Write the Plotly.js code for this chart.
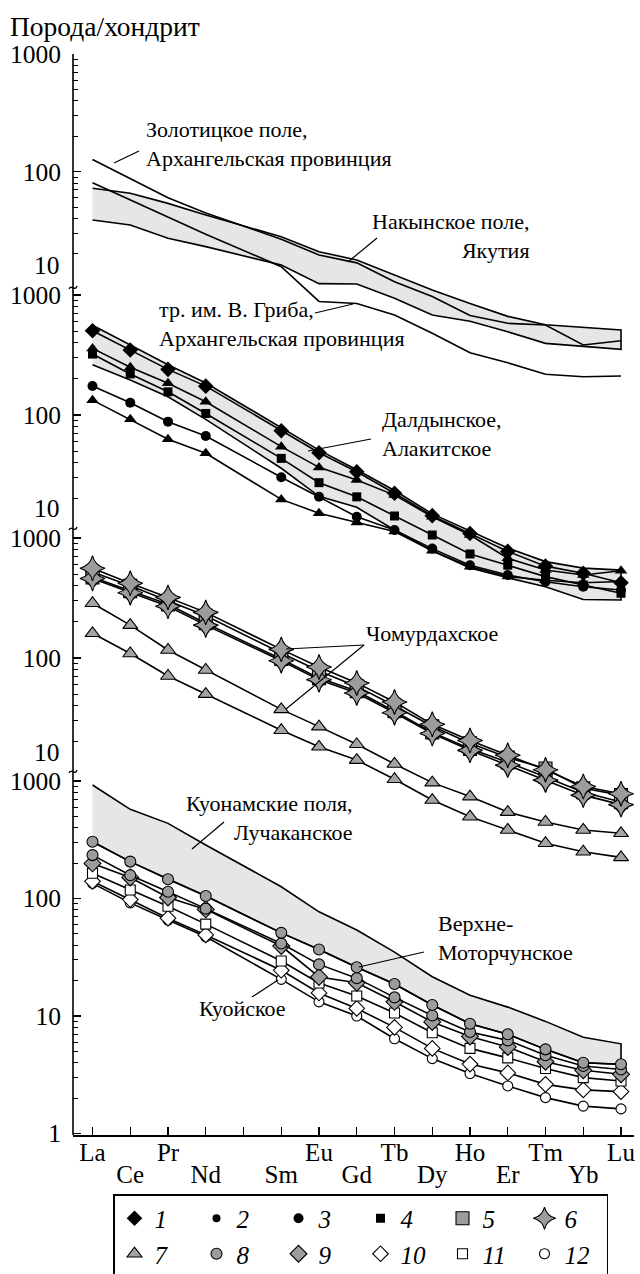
<!DOCTYPE html>
<html><head><meta charset="utf-8">
<script src="https://cdn.plot.ly/plotly-3.0.1.min.js"></script>
<style>html,body{margin:0;padding:0;background:#fff;}#chart{width:640px;height:1274px;}</style>
</head><body><div id="chart"></div>
<script>
// REE (chondrite-normalised); Pm not analysed
const elements = ["La","Ce","Pr","Nd","Pm","Sm","Eu","Gd","Tb","Dy","Ho","Er","Tm","Yb","Lu"];

// Panel 1 — Arkhangelsk & Nakyn
const zolotitsa   = [127, 87.5, 60, 44.5, null, 26.7, 19.6, 16.8, 11.6, 8.7, 6.0, 5.15, 4.98, 3.37, 3.66];
const griba       = [80.7, 57.8, 41.2, 29.4, null, 15.6, 7.9, 7.6, 6.05, 4.24, 2.9, 2.38, 1.9, 1.81, 1.84];
const nakynUpper  = [72.3, 65.5, 53.8, 42.9, null, 28, 20.9, 17.8, 13.2, 9.9, 7.6, 5.9, 5.0, 4.76, 4.52];
const nakynLower  = [38.9, 35.3, 27.2, 23.1, null, 16.1, 11.2, 11.1, 8.4, 6.05, 5.36, 4.37, 3.48, 3.3, 3.1];

// Panel 2 — Daldyn, Alakit
const daldynUpper = [560, 385, 262, 185, null, 78, 51, 35, 23.5, 15, 10.8, 7.8, 6.0, 5.3, 5.1];
const daldynLower = [262, 196, 142, 92, null, 36, 21, 17, 11, 7.4, 5.3, 4.4, 3.7, 2.9, 2.87];
const p2Diamond   = [504, 348, 240, 174, null, 74, 48.5, 33.7, 22.3, 14.5, 10.3, 7.3, 5.5, 4.8, 4.0];
const p2TriUp     = [359, 250, 184, 129, null, 54.5, 36.6, 28.7, 21.5, 14.2, 10, 6.4, 5.1, 4.64, 5.04];
const p2Square    = [322, 220, 156, 103, null, 43.5, 27.3, 20.8, 14.4, 10, 6.95, 5.6, 4.5, 3.83, 3.27];
const p2Circle    = [174.5, 126.7, 88, 66.8, null, 30.3, 20.8, 14.2, 11.0, 7.7, 5.6, 4.64, 4.08, 3.7, 3.48];
const p2TriLow    = [133, 92, 62.7, 48, null, 19.8, 15.2, 12.7, 10.7, 7.4, 5.44, 4.5, 4.2, 4.0, 4.1];

// Panel 3 — Chomurdakh
const p3Star1  = [560, 420, 320, 240, null, 118, 84, 62, 43, 28, 20.5, 15.5, 11.7, 8.5, 7.4];
const p3Sq1    = [520, 400, 300, 225, null, 110, 78, 58, 40, 27, 19.5, 14.8, 12, 8.2, 7.2];
const p3Sq2    = [470, 360, 280, 195, null, 98, 68, 53, 36, 24, 17.5, 13.5, 10.2, 7.6, 6.3];
const p3Star2  = [460, 350, 270, 188, null, 95, 66, 51, 35, 23.5, 17, 12.8, 9.6, 7.2, 6.0];
const p3TriUp  = [286, 188, 116.6, 79.4, null, 37.3, 26.8, 19.1, 13.1, 9.15, 7.0, 5.2, 4.3, 3.69, 3.46];
const p3TriLow = [160.6, 109, 70.8, 50, null, 25, 18.2, 14.1, 9.76, 6.55, 4.76, 3.69, 2.86, 2.43, 2.18];

// Panel 4 — Kuonamka, Luchakan, Verkhne-Motorchuna, Kuoika
const kuonamUpper = [925, 574, 436, 285, null, 126, 77, 54, 35, 21.6, 15, 11.9, 9.0, 6.6, 5.8];
const p4GC1 = [304, 206, 146, 105, null, 51, 36.8, 26, 18.7, 12.4, 8.6, 7.0, 5.2, 4.0, 3.88];
const p4GC2 = [234, 158, 114, 82, null, 41.4, 27.5, 21, 14.4, 10.1, 7.3, 6.2, 4.64, 3.75, 3.5];
const p4GD  = [199, 151, 102, 80.8, null, 39.4, 21.5, 19.2, 13.2, 8.9, 6.7, 5.45, 4.08, 3.45, 3.19];
const p4WS  = [164, 118, 86, 60.5, null, 29.4, 19.1, 14.8, 10.6, 7.2, 5.3, 4.4, 3.57, 2.99, 2.8];
const p4WD  = [140, 98, 68, 49, null, 24.5, 15.7, 11.6, 8.0, 5.3, 3.9, 3.28, 2.62, 2.35, 2.27];
const p4WC  = [134.6, 91.8, 65.5, 47.2, null, 20.5, 13.2, 10, 6.4, 4.34, 3.24, 2.54, 2.02, 1.71, 1.62];

const legendNames = ["1","2","3","4","5","6","7","8","9","10","11","12"];

// ---------------- styling / layout ----------------
const FONT = "Liberation Serif";
const PL = 73, PR = 634, PT = 54, PB = 1135;
const px = v => (v - PL) / (PR - PL);
const py = v => (PB - v) / (PB - PT);
function rng(top, dec) { return [3 - (PB - top) / dec, 3 + (top - PT) / dec]; }

const OL = {color: '#000', width: 1.1};
const GRAY = '#9c9c9c';
const M = {
  bDiamond: {symbol: 'diamond', size: 12, color: '#000'},
  bCircleS: {symbol: 'circle', size: 8, color: '#000'},
  bCircle:  {symbol: 'circle', size: 10, color: '#000'},
  bSquare:  {symbol: 'square', size: 9, color: '#000'},
  bTri:     {symbol: 'triangle-up', size: 11, color: '#000'},
  gSquare:  {symbol: 'square', size: 13, color: GRAY, line: OL},
  gStar:    {symbol: 'star-diamond', size: 18, color: GRAY, line: OL},
  gTri:     {symbol: 'triangle-up', size: 13, color: '#a4a4a4', line: OL},
  gCircle:  {symbol: 'circle', size: 11, color: GRAY, line: OL},
  gDiamond: {symbol: 'diamond', size: 13, color: GRAY, line: OL},
  wDiamond: {symbol: 'diamond', size: 12, color: '#fff', line: OL},
  wSquare:  {symbol: 'square', size: 10, color: '#fff', line: OL},
  wCircle:  {symbol: 'circle', size: 10, color: '#fff', line: OL}
};

function series(y, yaxis, marker) {
  const t = {type: 'scatter', mode: marker ? 'lines+markers' : 'lines', x: elements, y: y, yaxis: yaxis,
    connectgaps: true, line: {color: '#000', width: 1.6}, showlegend: false, hoverinfo: 'skip'};
  if (marker) t.marker = marker;
  return t;
}
function band(upper, lower, yaxis) {
  const idx = elements.map((e, i) => i).filter(i => upper[i] != null);
  const xs = idx.map(i => elements[i]).concat(idx.slice().reverse().map(i => elements[i]));
  const ys = idx.map(i => upper[i]).concat(idx.slice().reverse().map(i => lower[i]));
  return {type: 'scatter', mode: 'lines', x: xs, y: ys, yaxis: yaxis, fill: 'toself', fillcolor: '#e6e6e6',
    line: {color: '#000', width: 1.6}, showlegend: false, hoverinfo: 'skip'};
}

const traces = [
  band(nakynUpper, nakynLower, 'y4'),
  series(zolotitsa, 'y4'), series(griba, 'y4'),
  band(daldynUpper, daldynLower, 'y3'),
  series(p2TriLow, 'y3', M.bTri), series(p2Circle, 'y3', M.bCircle), series(p2Square, 'y3', M.bSquare),
  series(p2TriUp, 'y3', M.bTri), series(p2Diamond, 'y3', M.bDiamond),
  series(p3TriLow, 'y2', M.gTri), series(p3TriUp, 'y2', M.gTri),
  series(p3Sq2, 'y2', M.gSquare), series(p3Sq1, 'y2', M.gSquare),
  series(p3Star2, 'y2', M.gStar), series(p3Star1, 'y2', M.gStar),
  band(kuonamUpper, p4GC1, 'y'),
  series(p4WC, 'y', M.wCircle), series(p4WD, 'y', M.wDiamond), series(p4WS, 'y', M.wSquare),
  series(p4GD, 'y', M.gDiamond), series(p4GC2, 'y', M.gCircle), series(p4GC1, 'y', M.gCircle)
];

const legendMarkers = [M.bDiamond, M.bCircleS, M.bCircle, M.bSquare, M.gSquare, M.gStar,
                       M.gTri, M.gCircle, M.gDiamond, M.wDiamond, M.wSquare, M.wCircle];
legendNames.forEach((n, i) => traces.push({type: 'scatter', mode: 'markers', x: [null], y: [null], xaxis: 'x2',
  name: '<i>' + n + '</i>', marker: legendMarkers[i], showlegend: true, hoverinfo: 'skip'}));

function decadeMinors(lo, hi) {
  const out = [];
  for (let d = lo; d < hi; d *= 10) for (let k = 2; k <= 9; k++) out.push(k * d);
  return out;
}
function yax(top, dec, tv, lo, overlay) {
  const a = {type: 'log', range: rng(top, dec), tickmode: 'array', tickvals: tv, ticktext: tv.map(String),
    ticks: 'inside', ticklen: 8, tickwidth: 1.3, tickcolor: '#000', showgrid: false, showline: false, zeroline: false,
    tickfont: {family: FONT, size: 25.5, color: '#000'}, ticklabelstandoff: 11, fixedrange: true,
    minor: {ticks: 'inside', ticklen: 5, tickwidth: 1, tickcolor: '#000', tickmode: 'array', tickvals: decadeMinors(lo, 1000), showgrid: false}};
  if (overlay) { a.overlaying = 'y'; a.anchor = 'x'; }
  return a;
}

// two rows of element labels: even positions on the upper row, odd ones on the lower row (Pm unlabelled)
const row2 = elements.filter((e, i) => i % 2 === 1 && e !== 'Pm');
const ticktext1 = elements.map((e, i) => (i % 2 === 0 && e !== 'Pm') ? e : '');

const annots = [];
function txt(t, x, y, anchor, size) {
  annots.push({text: t, x: px(x), y: py(y), xref: 'paper', yref: 'paper', xanchor: anchor, yanchor: 'middle',
    align: anchor, showarrow: false, font: {family: FONT, size: size || 22, color: '#000'}});
}
txt('Порода/хондрит', 8, 26, 'left', 27.5);
txt('10', 62, 265, 'right', 25.5); txt('10', 62, 508, 'right', 25.5); txt('10', 62, 752, 'right', 25.5);
txt('Золотицкое поле,<br>Архангельская провинция', 144, 144, 'left');
txt('Накынское поле,<br>Якутия', 532, 236, 'right');
txt('тр. им. В. Гриба,<br>Архангельская провинция', 157, 324, 'left');
txt('Далдынское,<br>Алакитское', 380, 434, 'left');
txt('Чомурдахское', 364, 633, 'left');
txt('Куонамские поля,<br>Лучаканское', 355, 818, 'right');
txt('Верхне-<br>Моторчунское', 436, 938, 'left');
txt('Куойское', 197, 1008, 'left');

const shapes = [];
function seg(x0, y0, x1, y1, w) {
  shapes.push({type: 'line', xref: 'paper', yref: 'paper', x0: px(x0), y0: py(y0), x1: px(x1), y1: py(y1),
    line: {color: '#000', width: w || 1.2}});
}
seg(PL, PT, PL, PB, 1.6);
seg(114, 163, 139, 151); seg(348, 262, 377, 238); seg(315, 313, 353, 304);
seg(308, 451, 371, 439);
seg(364, 645, 286, 649); seg(364, 645, 286, 709);
seg(224, 822, 192, 849); seg(424, 952, 359, 967); seg(252, 997, 278, 980);
[287, 528, 771].forEach(yb => {
  const p = (x, y) => px(x).toFixed(5) + ',' + py(y).toFixed(5);
  shapes.push({type: 'path', xref: 'paper', yref: 'paper',
    path: 'M' + p(69, yb + 2) + ' C' + p(71, yb - 3) + ' ' + p(75, yb + 5) + ' ' + p(77, yb - 1),
    line: {color: '#000', width: 1.3}});
});

const XRANGE = [-0.5166, 14.344];
const layout = {
  width: 640, height: 1274, paper_bgcolor: '#fff', plot_bgcolor: 'rgba(0,0,0,0)',
  margin: {l: PL, r: 640 - PR, t: PT, b: 1274 - PB, autoexpand: false},
  font: {family: FONT, color: '#000'},
  showlegend: true,
  legend: {orientation: 'h', x: px(113), y: py(1194), xanchor: 'left', yanchor: 'top',
    entrywidth: 37, entrywidthmode: 'pixels', bordercolor: '#000', borderwidth: 1.5, bgcolor: '#fff',
    font: {family: FONT, size: 25, color: '#000'}, traceorder: 'normal'},
  xaxis: {type: 'category', categoryorder: 'array', categoryarray: elements, range: XRANGE,
    tickmode: 'array', tickvals: elements, ticktext: ticktext1, ticks: 'inside', ticklen: 8, tickwidth: 1.3,
    tickcolor: '#000', showline: true, linecolor: '#000', linewidth: 1.6, showgrid: false, zeroline: false,
    tickfont: {family: FONT, size: 25, color: '#000'}, ticklabelstandoff: -6, fixedrange: true, anchor: 'y'},
  xaxis2: {type: 'category', categoryorder: 'array', categoryarray: elements, range: XRANGE,
    overlaying: 'x', anchor: 'y', side: 'bottom', tickmode: 'array', tickvals: row2, ticktext: row2,
    ticks: '', showline: false, showgrid: false, zeroline: false,
    tickfont: {family: FONT, size: 25, color: '#000'}, ticklabelstandoff: 22, fixedrange: true},
  yaxis:  yax(781, 117.5, [1, 10, 100, 1000], 1, false),
  yaxis2: yax(538, 120, [100, 1000], 10, true),
  yaxis3: yax(295, 120, [100, 1000], 10, true),
  yaxis4: yax(54, 117.7, [100, 1000], 10, true),
  annotations: annots, shapes: shapes
};

Plotly.newPlot('chart', traces, layout, {staticPlot: true, displayModeBar: false});
</script></body></html>
